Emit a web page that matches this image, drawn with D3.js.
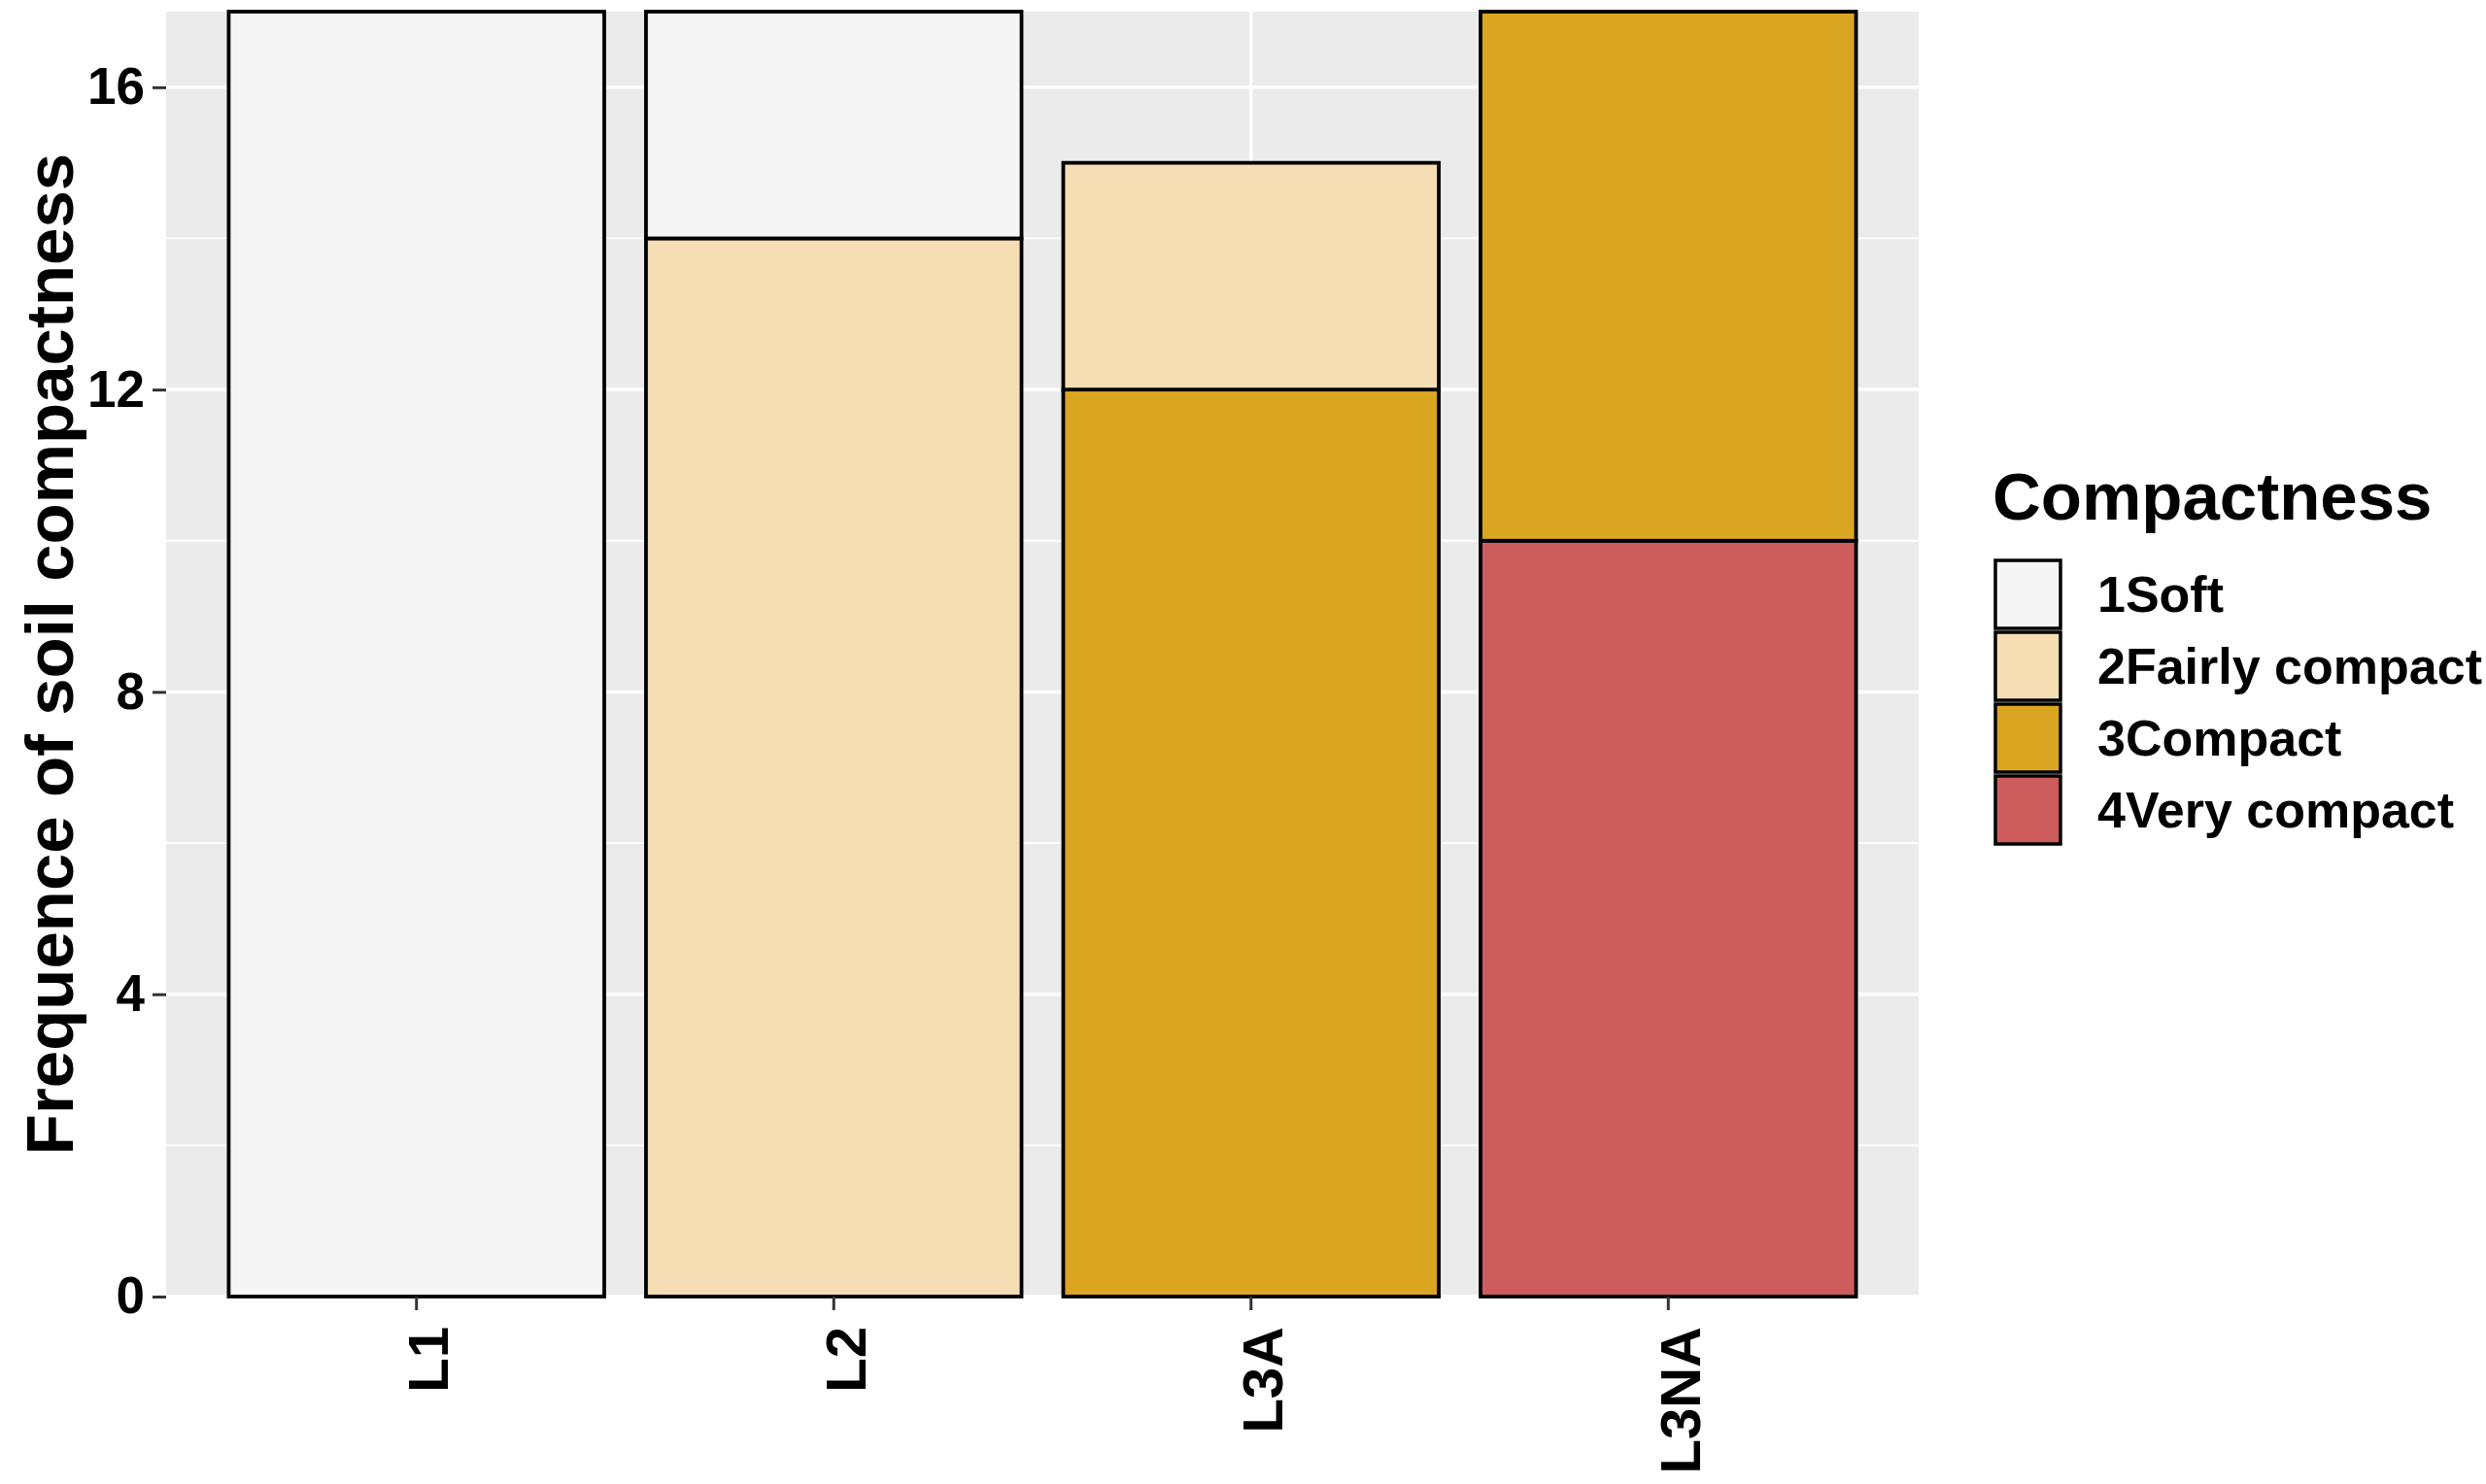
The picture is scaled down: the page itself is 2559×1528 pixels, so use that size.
<!DOCTYPE html>
<html>
<head>
<meta charset="utf-8">
<script src="https://cdn.jsdelivr.net/npm/d3@7"></script>
<style>
  html, body { margin: 0; padding: 0; background: #fff; }
  svg { display: block; font-family: 'Liberation Sans', Arial, sans-serif; font-weight: bold; }
</style>
</head>
<body>
<div class="bar-chart"></div>
<script>
// Data

const sites = ['L1', 'L2', 'L3A', 'L3NA']
const levels = ['1Soft', '2Fairly compact', '3Compact', '4Very compact']
const levelColors = ['#F5F5F5', '#F5DEB3', '#DAA520', '#CD5C5C']

const soft = [17, 3, 0, 0]
const fairlyCompact = [0, 14, 3, 0]
const compact = [0, 0, 12, 7]
const veryCompact = [0, 0, 0, 10]

const yTicks = [0, 4, 8, 12, 16]
const yMinorTicks = [2, 6, 10, 14]

// Stacked bar chart

const drawStackedBars = () => {
  const width = 2559
  const height = 1528
  const panel = {left: 171, right: 1975, top: 12, bottom: 1335}

  const rows = sites.map((site, i) => ({
    site,
    '1Soft': soft[i],
    '2Fairly compact': fairlyCompact[i],
    '3Compact': compact[i],
    '4Very compact': veryCompact[i]
  }))

  // bottom of the stack is the last level, like ggplot
  const stacked = d3.stack().keys(levels.slice().reverse())(rows)

  const color = d3.scaleOrdinal()
    .domain(levels)
    .range(levelColors)

  const x = d3.scaleBand()
    .domain(sites)
    .range([panel.left, panel.right])
    .paddingInner(0.1)
    .paddingOuter(0.15)
  const y = d3.scaleLinear()
    .domain([0, 17])
    .range([panel.bottom, panel.top])

  const svg = d3.select('.bar-chart')
    .append('svg')
      .attr('width', width)
      .attr('height', height)

  // panel background and grid
  svg.append('rect')
      .attr('x', panel.left)
      .attr('y', panel.top)
      .attr('width', panel.right - panel.left)
      .attr('height', panel.bottom - panel.top)
      .attr('fill', '#EBEBEB')

  svg.append('g')
    .selectAll('line')
    .data(yMinorTicks)
    .enter().append('line')
      .attr('x1', panel.left)
      .attr('x2', panel.right)
      .attr('y1', (d) => y(d))
      .attr('y2', (d) => y(d))
      .attr('stroke', '#fff')
      .attr('stroke-width', 1.8)

  svg.append('g')
    .selectAll('line')
    .data(yTicks)
    .enter().append('line')
      .attr('x1', panel.left)
      .attr('x2', panel.right)
      .attr('y1', (d) => y(d))
      .attr('y2', (d) => y(d))
      .attr('stroke', '#fff')
      .attr('stroke-width', 3.5)

  svg.append('g')
    .selectAll('line')
    .data(sites)
    .enter().append('line')
      .attr('x1', (d) => x(d) + x.bandwidth() / 2)
      .attr('x2', (d) => x(d) + x.bandwidth() / 2)
      .attr('y1', panel.top)
      .attr('y2', panel.bottom)
      .attr('stroke', '#fff')
      .attr('stroke-width', 3.5)

  // bars
  svg.append('g')
    .selectAll('g')
    .data(stacked)
    .enter().append('g')
      .attr('fill', (d) => color(d.key))
    .selectAll('rect')
    .data((d) => d.filter((s) => s[1] - s[0] > 0))
    .enter().append('rect')
      .attr('x', (d) => x(d.data.site))
      .attr('width', x.bandwidth())
      .attr('y', (d) => y(d[1]))
      .attr('height', (d) => y(d[0]) - y(d[1]))
      .attr('stroke', '#000')
      .attr('stroke-width', 3.8)

  // axes
  const yAxis = svg.append('g')
      .attr('transform', `translate(${panel.left},0)`)
      .call(d3.axisLeft(y).tickValues(yTicks).tickSize(14).tickPadding(8))
  yAxis.select('.domain').remove()
  yAxis.selectAll('.tick line')
      .attr('stroke', '#333')
      .attr('stroke-width', 3)
  yAxis.selectAll('.tick text')
      .attr('fill', '#000')
      .style('font-size', '53px')
      .style('font-family', "'Liberation Sans', Arial, sans-serif")
      .style('font-weight', 'bold')

  const xAxis = svg.append('g')
      .attr('transform', `translate(0,${panel.bottom})`)
      .call(d3.axisBottom(x).tickSize(14).tickPadding(0))
  xAxis.select('.domain').remove()
  xAxis.selectAll('.tick line')
      .attr('stroke', '#333')
      .attr('stroke-width', 3)
  xAxis.selectAll('.tick text')
      .attr('fill', '#000')
      .style('font-size', '58px')
      .style('font-family', "'Liberation Sans', Arial, sans-serif")
      .style('font-weight', 'bold')
      .style('text-anchor', 'end')
      .attr('dy', '0.35em')
      .attr('dx', 0)
      .attr('y', 0)
      .attr('transform', 'translate(12,31) rotate(-90)')

  // y axis title
  svg.append('text')
      .attr('transform', `translate(75,${(panel.top + panel.bottom) / 2}) rotate(-90)`)
      .attr('text-anchor', 'middle')
      .style('font-size', '69px')
      .text('Frequence of soil compactness')

  // legend
  const legend = svg.append('g')
      .attr('transform', 'translate(2051,0)')

  legend.append('text')
      .attr('x', 0)
      .attr('y', 535)
      .style('font-size', '69px')
      .text('Compactness')

  const item = legend.selectAll('.item')
    .data(levels)
    .enter().append('g')
      .attr('class', 'item')
      .attr('transform', (d, i) => `translate(0,${577 + i * 74})`)

  item.append('rect')
      .attr('x', 3)
      .attr('y', 0)
      .attr('width', 67)
      .attr('height', 70)
      .attr('fill', (d) => color(d))
      .attr('stroke', '#000')
      .attr('stroke-width', 3.5)

  item.append('text')
      .attr('x', 108)
      .attr('y', 35)
      .attr('dy', '0.35em')
      .style('font-size', '52px')
      .text((d) => d)
}

drawStackedBars()
</script>
</body>
</html>
